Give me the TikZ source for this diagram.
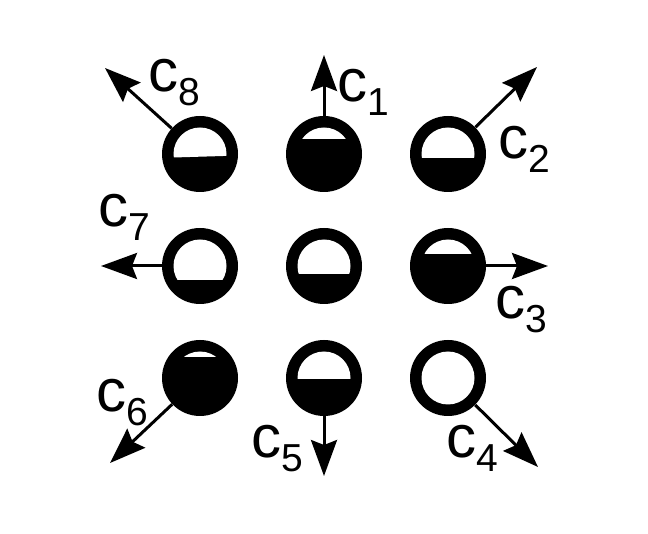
\documentclass[tikz,border=0pt]{standalone}
\usepackage{fontspec}
\setmainfont{Liberation Sans}
\usetikzlibrary{arrows.meta}
\newcommand{\clab}[1]{c\raisebox{-14pt}{\fontsize{39}{39}\selectfont #1}}
\begin{document}
\begin{tikzpicture}[x=1pt,y=-1pt,
  glass/.style 2 args={circle, minimum size=76pt, inner sep=0pt, fill=black, draw=none,
    path picture={\begin{scope}[shift={(path picture bounding box.center)}]
      \clip (0pt,0pt) circle (26.5pt);
      \fill[white] (-30pt,#1) -- (30pt,#2) -- (30pt,30pt) -- (-30pt,30pt) -- cycle;
    \end{scope}}},
  arr/.style={line width=3pt, -{Stealth[length=36pt,width=26pt,inset=5pt]}},
  lab/.style={inner sep=0pt, anchor=base west, font=\fontsize{60}{60}\selectfont}]
\useasboundingbox (0,0) rectangle (648,534);
% glasses
\node[glass={-3.6pt}{-1.8pt}] (g8) at (200,154) {};
\node[glass={14.7pt}{14.7pt}] (g1) at (324,154) {};
\node[glass={-4.3pt}{-4.3pt}] (g2) at (448,154) {};
\node[glass={-14pt}{-14pt}] (g7) at (200,266) {};
\node[glass={-8pt}{-8pt}] (g0) at (324,266) {};
\node[glass={11.7pt}{11.7pt}] (g3) at (448,266) {};
\node[glass={21.3pt}{21.3pt}] (g6) at (200,378) {};
\node[glass={-1.3pt}{-1.3pt}] (g5) at (324,378) {};
\node[glass={-40pt}{-40pt}] (g4) at (448,378) {};
% arrow tips
\coordinate (t8) at (105,68);
\coordinate (t1) at (324,55);
\coordinate (t2) at (537,67);
\coordinate (t3) at (548,266);
\coordinate (t4) at (538,467);
\coordinate (t5) at (324,476);
\coordinate (t6) at (110,463);
\coordinate (t7) at (101,266);
\foreach \i in {1,...,8} {\draw[arr] (g\i) -- (t\i);}
% labels
\node[lab] (l8) at (148,92) {\clab{8}};
\node[lab] (l1) at (337,102) {\clab{1}};
\node[lab] (l2) at (498,159) {\clab{2}};
\node[lab] (l3) at (495,319) {\clab{3}};
\node[lab] (l4) at (446,457) {\clab{4}};
\node[lab] (l5) at (251,457) {\clab{5}};
\node[lab] (l6) at (96,412) {\clab{6}};
\node[lab] (l7) at (98,227) {\clab{7}};
\end{tikzpicture}
\end{document}
